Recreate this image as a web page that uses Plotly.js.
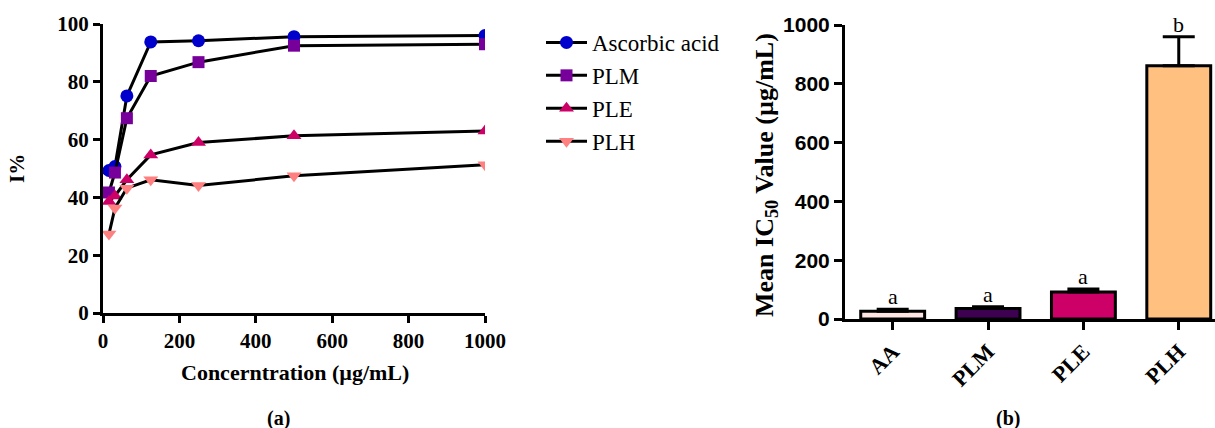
<!DOCTYPE html>
<html>
<head>
<meta charset="utf-8">
<script src="https://cdn.plot.ly/plotly-3.0.1.min.js"></script>
<style>html,body{margin:0;padding:0;background:#fff;}#chart{width:1215px;height:428px;}</style>
</head>
<body>
<div id="chart"></div>
<script>
// ---- Data (a): inhibition % vs concentration ----
const concentration = [15.6, 31.25, 62.5, 125, 250, 500, 1000];
const ascorbicAcid = [49.3, 50.7, 75.1, 93.8, 94.2, 95.6, 96.0];
const plm = [41.7, 48.6, 67.4, 82.0, 86.8, 92.5, 93.0];
const ple = [38.6, 40.5, 46.1, 54.7, 59.0, 61.3, 63.0];
const plh = [27.3, 36.3, 43.2, 46.1, 44.1, 47.5, 51.3];
const seriesNames = ["Ascorbic acid", "PLM", "PLE", "PLH"];
const xTicks = [0, 200, 400, 600, 800, 1000];
const yTicks = [0, 20, 40, 60, 80, 100];

// ---- Data (b): mean IC50 ----
const ic50Categories = ["AA", "PLM", "PLE", "PLH"];
const ic50Mean = [26, 36, 92, 861];
const ic50Err = [7, 6, 10, 99];
const ic50Letters = ["a", "a", "a", "b"];
const y2Ticks = [0, 200, 400, 600, 800, 1000];

const serif = "Liberation Serif, Times New Roman, serif";
const sansNarrow = "Liberation Sans Narrow, Arial Narrow, Liberation Sans, sans-serif";

const seriesValues = [ascorbicAcid, plm, ple, plh];
const seriesColors = ["#0000CC", "#77009A", "#CC0066", "#FF8080"];
const seriesSymbols = ["circle", "square", "triangle-up", "triangle-down"];
const seriesSizes = [13, 12, 13, 13];

const traces = seriesValues.map((vals, i) => ({
  type: "scatter", mode: "lines+markers",
  x: concentration, y: vals, name: seriesNames[i],
  legendgroup: "g" + i,
  line: {color: "#000", width: 3},
  marker: {color: seriesColors[i], symbol: seriesSymbols[i], size: seriesSizes[i], line: {width: 0}},
  xaxis: "x", yaxis: "y"
}));

const barColors = ["#FFE4E4", "#3E0050", "#CC0066", "#FFC080"];
traces.push({
  type: "bar", x: ic50Categories, y: ic50Mean,
  xaxis: "x2", yaxis: "y2", showlegend: false, width: 0.67,
  marker: {color: barColors, line: {color: "#000", width: 3}},
  error_y: {type: "data", symmetric: false, array: ic50Err, arrayminus: ic50Err.map(() => 0),
            color: "#000", thickness: 3, width: 16}
});

function paperText(text, px, py, size, angle) {
  return {text: text, xref: "paper", yref: "paper", x: px / 1215, y: 1 - py / 428,
          xanchor: "center", yanchor: "middle", textangle: angle || 0,
          showarrow: false, font: {family: serif, size: size, color: "#000"}};
}

const annotations = [
  paperText("<b>Concerntration (µg/mL)</b>", 295, 372, 22),
  paperText("<b>I%</b>", 17, 169, 21, -90),
  paperText("<b>(a)</b>", 278, 418, 20),
  paperText("<b>(b)</b>", 1008, 418, 20),
  paperText("<b>Mean IC<sub>50</sub> Value (µg/mL)</b>", 766, 175, 26, -90)
];
ic50Categories.forEach((c, i) => {
  annotations.push({text: ic50Letters[i], xref: "x2", yref: "y2", x: c, y: ic50Mean[i] + ic50Err[i],
    xanchor: "center", yanchor: "bottom", yshift: -2, showarrow: false,
    font: {family: serif, size: 22, color: "#000"}});
});

const axisCommon = {showgrid: false, zeroline: false, showline: true, linecolor: "#000", linewidth: 3,
                    ticks: "outside", tickwidth: 3, tickcolor: "#000"};

const layout = {
  width: 1215, height: 428,
  margin: {l: 0, r: 0, t: 0, b: 0},
  paper_bgcolor: "#fff", plot_bgcolor: "rgba(0,0,0,0)",
  showlegend: true,
  legend: {x: 541 / 1215, y: 1 - 21 / 428, xanchor: "left", yanchor: "top",
           font: {family: serif, size: 23, color: "#000"}, tracegroupgap: 0, itemwidth: 41,
           bgcolor: "rgba(0,0,0,0)"},
  xaxis: Object.assign({}, axisCommon, {
          domain: [103 / 1215, 485 / 1215], range: [0, 1000],
          tickvals: xTicks, ticktext: xTicks.map(v => "<b>" + v + "</b>"), ticklen: 7,
          tickfont: {family: serif, size: 21, color: "#000"}, anchor: "y"}),
  yaxis: Object.assign({}, axisCommon, {
          domain: [1 - 313 / 428, 1 - 24 / 428], range: [0, 100],
          tickvals: yTicks, ticktext: yTicks.map(v => "<b>" + v + "</b>"), ticklen: 7,
          tickfont: {family: serif, size: 21, color: "#000"}, anchor: "x"}),
  xaxis2: Object.assign({}, axisCommon, {
          domain: [845 / 1215, 1], range: [-0.5, 3.38], type: "category",
          tickvals: ic50Categories, ticktext: ic50Categories.map(c => "<b>" + c + "</b>"),
          ticklen: 8, tickangle: -45,
          tickfont: {family: serif, size: 22, color: "#000"}, anchor: "y2"}),
  yaxis2: Object.assign({}, axisCommon, {
          domain: [1 - 319 / 428, 1 - 25 / 428], range: [0, 1000],
          tickvals: y2Ticks, ticktext: y2Ticks.map(v => "<b>" + v + "</b>"), ticklen: 8,
          tickfont: {family: sansNarrow, size: 21, color: "#000"}, anchor: "x2"}),
  annotations: annotations
};

Plotly.newPlot("chart", traces, layout, {staticPlot: true});
</script>
</body>
</html>
